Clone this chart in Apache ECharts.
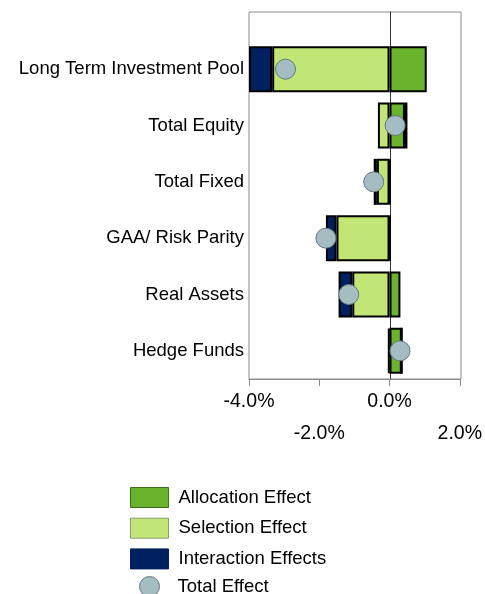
<!DOCTYPE html>
<html>
<head>
<meta charset="utf-8">
<script src="https://cdn.jsdelivr.net/npm/echarts@6/dist/echarts.min.js"></script>
<style>
html,body{margin:0;padding:0;background:#fff;}
#chart{width:485px;height:594px;}
</style>
</head>
<body>
<div id="chart"></div>
<script>
const categories = ['Long Term Investment Pool','Total Equity','Total Fixed','GAA/ Risk Parity','Real Assets','Hedge Funds'];
const allocationEffect = [1.06, 0.44, 0.02, 0.02, 0.31, 0.35];
const selectionEffect = [-3.34, -0.33, -0.36, -1.51, -1.06, 0];
const interactionEffects = [-0.66, 0.07, -0.09, -0.30, -0.39, -0.04];
const totalEffect = [-2.96, 0.16, -0.45, -1.81, -1.16, 0.30];
const xTicks = {min: -4, max: 2, interval: 2};

const FONT = "'Liberation Sans', Arial, sans-serif";
const chart = echarts.init(document.getElementById('chart'), null, {renderer: 'canvas'});

const barBase = {
  type: 'bar', stack: 'eff', barWidth: 46, xAxisIndex: 1, yAxisIndex: 1,
  itemStyle: {borderColor: '#000', borderWidth: 2}
};
const legendText = {fontSize: 18.5, color: '#000', fontFamily: FONT, padding: [0, 0, 0, 5]};

chart.setOption({
  animation: false,
  backgroundColor: '#fff',
  textStyle: {fontFamily: FONT},
  grid: [
    {left: 249, right: 24, top: 12, bottom: 215, show: true, borderColor: '#8c8c8c', borderWidth: 1, backgroundColor: 'transparent'},
    {left: 249, right: 24, top: 41, bottom: 215}
  ],
  xAxis: [
    {gridIndex: 0, type: 'value', min: xTicks.min, max: xTicks.max, interval: xTicks.interval,
     axisLine: {show: false}, axisTick: {show: false}, axisLabel: {show: false}, splitLine: {show: false}},
    {gridIndex: 1, type: 'value', min: xTicks.min, max: xTicks.max, interval: xTicks.interval,
     axisLine: {show: true, lineStyle: {color: '#8c8c8c', width: 1}},
     axisTick: {show: true, length: 7, lineStyle: {color: '#8c8c8c'}},
     splitLine: {show: false},
     axisLabel: {
       margin: 13, color: '#000', fontFamily: FONT,
       formatter: function (v, i) {
         const s = v.toFixed(1) + '%';
         return (i % 2 === 0) ? '{a|' + s + '}' : '{b|' + s + '}';
       },
       rich: {
         a: {fontSize: 19.5, color: '#000', fontFamily: FONT},
         b: {fontSize: 19.5, color: '#000', fontFamily: FONT, padding: [32, 0, 0, 0]}
       }
     }}
  ],
  yAxis: [
    {gridIndex: 0, type: 'value', min: 0, max: 1,
     axisLine: {show: true, onZero: true, lineStyle: {color: '#333', width: 1}},
     axisTick: {show: false}, axisLabel: {show: false}, splitLine: {show: false}},
    {gridIndex: 1, type: 'category', data: categories, inverse: true,
     axisLine: {show: false}, axisTick: {show: false}, splitLine: {show: false},
     axisLabel: {fontSize: 18.5, color: '#000', margin: 5, fontFamily: FONT}}
  ],
  legend: [
    {
      orient: 'vertical', left: 130, top: 487, padding: 0,
      itemWidth: 38, itemHeight: 20, itemGap: 9.7,
      selectedMode: false, icon: 'rect',
      textStyle: legendText,
      data: [
        {name: 'Allocation Effect', itemStyle: {borderColor: '#3f6b1a', borderWidth: 1}},
        {name: 'Selection Effect', itemStyle: {borderColor: '#8a9a7a', borderWidth: 1}},
        {name: 'Interaction Effects', itemStyle: {borderColor: '#002060', borderWidth: 1}}
      ]
    },
    {
      orient: 'vertical', left: 139, top: 576, padding: 0,
      itemWidth: 20, itemHeight: 20,
      selectedMode: false,
      textStyle: {fontSize: 18.5, color: '#000', fontFamily: FONT, padding: [0, 0, 0, 13]},
      data: [
        {name: 'Total Effect', icon: 'circle', itemStyle: {borderColor: '#66797c', borderWidth: 1}}
      ]
    }
  ],
  series: [
    Object.assign({}, barBase, {name: 'Allocation Effect', data: allocationEffect,
      itemStyle: {color: '#6ab42d', borderColor: '#000', borderWidth: 2}}),
    Object.assign({}, barBase, {name: 'Selection Effect', data: selectionEffect,
      itemStyle: {color: '#c2e676', borderColor: '#000', borderWidth: 2}}),
    Object.assign({}, barBase, {name: 'Interaction Effects', data: interactionEffects,
      itemStyle: {color: '#002060', borderColor: '#000', borderWidth: 2}}),
    {name: 'Total Effect', type: 'scatter', xAxisIndex: 1, yAxisIndex: 1, z: 5,
     symbol: 'circle', symbolSize: 20,
     itemStyle: {color: '#a3bdc2', borderColor: '#66797c', borderWidth: 1, opacity: 1},
     data: totalEffect.map((v, i) => [v, categories[i]])}
  ]
});
</script>
</body>
</html>
